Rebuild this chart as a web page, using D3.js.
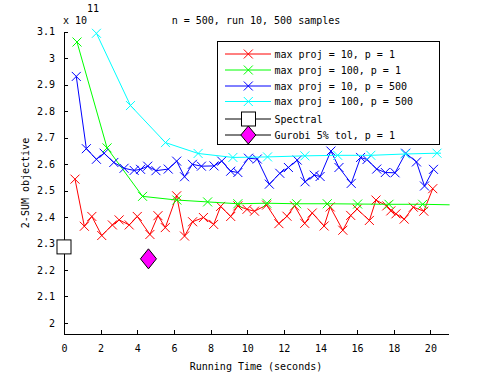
<!DOCTYPE html>
<html lang="en">
<head>
    <meta charset="UTF-8">
    <title>2-SUM objective vs running time</title>
    <style>
        body { margin: 0; background: #fff; }
        svg text { font-family: "DejaVu Sans Mono", monospace; font-size: 10px; fill: #000; }
        .axis path, .axis line { stroke: #000; shape-rendering: crispEdges; }
        .axis text { font-family: "DejaVu Sans Mono", monospace; font-size: 10px; }
    </style>
    <script src="https://d3js.org/d3.v7.min.js"></script>
</head>
<body>
    <svg width="495" height="375"></svg>
    <script>
        // values are in units of 1e11
        const redT = [0.60, 1.11, 1.52, 2.06, 2.64, 3.01, 3.56, 4.00, 4.69, 5.13, 5.53, 6.15, 6.58, 7.02, 7.61, 8.17, 8.55, 9.10, 9.49, 9.99, 10.40, 11.06, 11.73, 12.17, 12.59, 13.14, 13.55, 14.20, 14.53, 15.22, 15.65, 16.00, 16.67, 17.03, 17.62, 17.84, 18.12, 18.57, 19.07, 19.64, 20.13];
        const redV = [2.543, 2.365, 2.402, 2.330, 2.370, 2.389, 2.370, 2.402, 2.334, 2.405, 2.360, 2.480, 2.328, 2.382, 2.398, 2.372, 2.440, 2.402, 2.442, 2.429, 2.422, 2.445, 2.375, 2.403, 2.442, 2.376, 2.415, 2.366, 2.438, 2.350, 2.406, 2.430, 2.387, 2.464, 2.442, 2.423, 2.412, 2.392, 2.437, 2.422, 2.507];

        const greenT = [0.71, 2.35, 4.29, 6.16, 7.84, 9.49, 11.07, 12.70, 14.37, 16.03, 17.74, 19.58, 21.05];
        const greenV = [3.061, 2.661, 2.478, 2.464, 2.457, 2.450, 2.452, 2.450, 2.450, 2.449, 2.448, 2.448, 2.446];

        const blueT = [0.67, 1.22, 1.77, 2.19, 2.72, 3.28, 3.83, 4.18, 4.57, 5.02, 5.69, 6.15, 6.58, 7.01, 7.50, 8.19, 8.61, 9.10, 9.49, 10.07, 10.55, 11.21, 11.78, 12.25, 12.73, 13.16, 13.66, 13.98, 14.57, 15.01, 15.68, 16.19, 16.54, 17.07, 17.54, 18.07, 18.65, 19.24, 19.68, 20.17];
        const blueV = [2.931, 2.658, 2.618, 2.641, 2.606, 2.584, 2.576, 2.580, 2.592, 2.575, 2.581, 2.611, 2.552, 2.599, 2.592, 2.593, 2.611, 2.573, 2.568, 2.622, 2.619, 2.524, 2.565, 2.587, 2.615, 2.533, 2.558, 2.553, 2.649, 2.587, 2.527, 2.625, 2.617, 2.581, 2.568, 2.567, 2.641, 2.608, 2.517, 2.580];

        const cyanT = [1.77, 3.63, 5.54, 7.32, 9.22, 11.11, 13.15, 14.94, 16.75, 18.63, 20.36, 20.58];
        const cyanV = [3.094, 2.821, 2.681, 2.640, 2.625, 2.627, 2.631, 2.633, 2.633, 2.638, 2.641, 2.641];

        const spectral = [0, 2.287];
        const gurobi = [4.61, 2.242];

        const xTicks = [0, 2, 4, 6, 8, 10, 12, 14, 16, 18, 20];
        const yTicks = [2, 2.1, 2.2, 2.3, 2.4, 2.5, 2.6, 2.7, 2.8, 2.9, 3, 3.1];

        const legendLabels = ["max proj = 10, p = 1", "max proj = 100, p = 1", "max proj = 10, p = 500",
            "max proj = 100, p = 500", "Spectral", "Gurobi 5% tol, p = 1"];

        // series: the green and cyan curves run on past their last marker
        const series = [
            { t: redT, v: redV, color: "#ff0000", tail: false },
            { t: greenT, v: greenV, color: "#00ff00", tail: true },
            { t: blueT, v: blueV, color: "#0000ff", tail: false },
            { t: cyanT, v: cyanV, color: "#00ffff", tail: true }
        ];

        const svg = d3.select("svg");

        const x = d3.scaleLinear().domain([0, 21]).range([64, 448.7]);
        const y = d3.scaleLinear().domain([1.958, 3.1]).range([334, 31.7]);

        const xMark = "M-4.5,-4.5L4.5,4.5M-4.5,4.5L4.5,-4.5";

        // axes (box off, ticks pointing in)
        svg.append("g")
            .attr("class", "axis")
            .attr("transform", "translate(0,334)")
            .call(d3.axisBottom(x).tickValues(xTicks).tickSizeInner(-4).tickSizeOuter(0).tickPadding(11))
            .call(g => g.selectAll("text").attr("font-family", null).attr("font-size", null));

        svg.append("g")
            .attr("class", "axis")
            .attr("transform", "translate(64,0)")
            .call(d3.axisLeft(y).tickValues(yTicks).tickSizeInner(-4).tickSizeOuter(0).tickPadding(9)
                .tickFormat(d3.format(".1~f")))
            .call(g => g.selectAll("text").attr("font-family", null).attr("font-size", null));

        // lines + x markers
        const line = d3.line().x(d => x(d[0])).y(d => y(d[1]));

        series.forEach(s => {
            const pts = s.t.map((t, i) => [t, s.v[i]]);
            svg.append("path")
                .datum(pts)
                .attr("d", line)
                .attr("fill", "none")
                .attr("stroke", s.color)
                .attr("stroke-width", 1);

            const marked = s.tail ? pts.slice(0, -1) : pts;
            svg.append("g").selectAll("path")
                .data(marked)
                .enter().append("path")
                .attr("transform", d => `translate(${x(d[0])},${y(d[1])})`)
                .attr("d", xMark)
                .attr("fill", "none")
                .attr("stroke", s.color)
                .attr("stroke-width", 1);
        });

        // spectral square and gurobi diamond
        svg.append("rect")
            .attr("x", x(spectral[0]) - 7)
            .attr("y", y(spectral[1]) - 7)
            .attr("width", 14)
            .attr("height", 14)
            .attr("fill", "#fff")
            .attr("stroke", "#000");

        const diamond = "M0,-10L8,0L0,10L-8,0Z";
        svg.append("path")
            .attr("transform", `translate(${x(gurobi[0])},${y(gurobi[1])})`)
            .attr("d", diamond)
            .attr("fill", "#ff00ff")
            .attr("stroke", "#000");

        // legend
        const leg = svg.append("g");
        leg.append("rect")
            .attr("x", 217.5).attr("y", 41.5)
            .attr("width", 222).attr("height", 102.5)
            .attr("fill", "#fff").attr("stroke", "#000")
            .attr("shape-rendering", "crispEdges");

        const rowY = [54, 70, 86, 101.5, 119, 135];
        legendLabels.forEach((label, i) => {
            const ry = rowY[i];
            const color = i < 4 ? series[i].color : "#000";
            leg.append("line")
                .attr("x1", 225).attr("x2", 271)
                .attr("y1", ry).attr("y2", ry)
                .attr("stroke", color);
            if (i < 4) {
                leg.append("path")
                    .attr("transform", `translate(248.3,${ry})`)
                    .attr("d", xMark)
                    .attr("fill", "none")
                    .attr("stroke", color);
            } else if (i === 4) {
                leg.append("rect")
                    .attr("x", 241.5).attr("y", ry - 7)
                    .attr("width", 14).attr("height", 14)
                    .attr("fill", "#fff").attr("stroke", "#000");
            } else {
                leg.append("path")
                    .attr("transform", `translate(248.3,${ry})`)
                    .attr("d", "M0,-9L7.5,0L0,9L-7.5,0Z")
                    .attr("fill", "#ff00ff")
                    .attr("stroke", "#000");
            }
            leg.append("text")
                .attr("x", 274.5)
                .attr("y", ry + 3.5)
                .text(label);
        });

        // titles
        svg.append("text")
            .attr("x", 256)
            .attr("y", 24)
            .attr("text-anchor", "middle")
            .text("n = 500, run 10, 500 samples");

        svg.append("text")
            .attr("x", 256)
            .attr("y", 369.5)
            .attr("text-anchor", "middle")
            .text("Running Time (seconds)");

        svg.append("text")
            .attr("transform", "translate(28.5,183) rotate(-90)")
            .attr("text-anchor", "middle")
            .text("2-SUM objective");

        // exponent label
        svg.append("text").attr("x", 63).attr("y", 23.5).text("x 10");
        svg.append("text").attr("x", 87).attr("y", 12).text("11");
    </script>
</body>
</html>
